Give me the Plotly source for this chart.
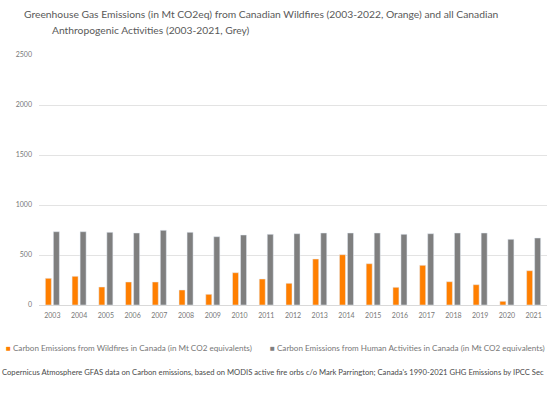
import plotly.graph_objects as go

years = [str(y) for y in range(2003, 2022)]
wildfire = [267, 287, 180, 230, 230, 150, 107, 323, 260, 217,
            460, 503, 413, 177, 397, 233, 203, 37, 343]
human = [733, 733, 727, 720, 747, 727, 683, 700, 707, 713,
         720, 720, 720, 707, 713, 720, 720, 657, 670]
y_ticks = [0, 500, 1000, 1500, 2000, 2500]

orange = "#FF7F00"
grey = "#7F7F7F"
font = "Lato"

fig = go.Figure()
fig.add_bar(x=years, y=wildfire, marker_color=orange,
            name="Carbon Emissions from Wildfires in Canada (in Mt CO2 equivalents)")
fig.add_bar(x=years, y=human, marker_color=grey,
            name="Carbon Emissions from Human Activities in Canada (in Mt CO2 equivalents)")

fig.update_layout(
    width=550, height=400,
    margin=dict(l=39, r=3, t=55, b=95),
    plot_bgcolor="white", paper_bgcolor="white",
    barmode="group", bargap=0.4, bargroupgap=0.25,
    showlegend=False,
    font=dict(family=font, size=7, color="#777777"),
)
fig.update_yaxes(range=[0, 2500], tickvals=y_ticks, showgrid=True,
                 gridcolor="#e3e3e3", gridwidth=1, zeroline=False,
                 ticks="", ticklabelstandoff=6)
fig.update_xaxes(showline=True, linecolor="#d9d9d9", linewidth=1, ticks="",
                 ticklabelstandoff=4)

title1 = "Greenhouse Gas Emissions (in Mt CO2eq) from Canadian Wildfires (2003-2022, Orange) and all Canadian"
title2 = "Anthropogenic Activities (2003-2021, Grey)"
fig.add_annotation(text=title1, xref="paper", yref="paper", x=-17/508, y=1 + 41/250,
                   xanchor="left", yanchor="middle", showarrow=False,
                   font=dict(family=font, size=10.3, color="#595959"))
fig.add_annotation(text=title2, xref="paper", yref="paper", x=11/508, y=1 + 25/250,
                   xanchor="left", yanchor="middle", showarrow=False,
                   font=dict(family=font, size=10.3, color="#595959"))

leg1 = f'<span style="color:{orange}">■</span> Carbon Emissions from Wildfires in Canada (in Mt CO2 equivalents)'
leg2 = f'<span style="color:{grey}">■</span> Carbon Emissions from Human Activities in Canada (in Mt CO2 equivalents)'
fig.add_annotation(text=leg1, xref="paper", yref="paper", x=-35/508, y=-43/250,
                   xanchor="left", yanchor="middle", showarrow=False,
                   font=dict(family=font, size=8.1, color="#777777"))
fig.add_annotation(text=leg2, xref="paper", yref="paper", x=229/508, y=-43/250,
                   xanchor="left", yanchor="middle", showarrow=False,
                   font=dict(family=font, size=8.1, color="#777777"))

# the source line runs off both edges of the original picture; keep the visible part
source = ("Copernicus Atmosphere GFAS data on Carbon emissions, based on MODIS active fire orbs "
          "c/o Mark Parrington; Canada's 1990-2021 GHG Emissions by IPCC Sec")
fig.add_annotation(text=source, xref="paper", yref="paper", x=-39/508, y=-67/250,
                   xanchor="left", yanchor="middle", showarrow=False,
                   font=dict(family=font, size=7.65, color="#4a4a4a"))

# drop the browser's default body margin so the 550x400 figure fills the window
fig.write_html("out.html", config={"displayModeBar": False},
               post_script="document.body.style.margin='0';")
